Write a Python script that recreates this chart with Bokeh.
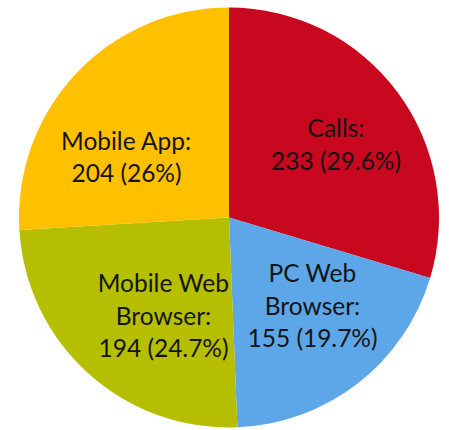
import math
from bokeh.plotting import figure
from bokeh.models import Range1d, ColumnDataSource
from bokeh.core.properties import value
from bokeh.embed import file_html
from bokeh.resources import INLINE

# ---- data ----
categories = ["Calls", "PC Web Browser", "Mobile Web Browser", "Mobile App"]
label_titles = [["Calls:"], ["PC Web", "Browser:"], ["Mobile Web", "Browser:"], ["Mobile App:"]]
counts = [233, 155, 194, 204]
percent_labels = ["29.6%", "19.7%", "24.7%", "26%"]
colors = ["#C8081E", "#5DA6E8", "#B6BE00", "#FFC000"]

# ---- layout ----
W, H = 449, 430
CX, CY = 228.5, 213.0   # pie centre in data (pixel) units
R = 210.0
LS = 32.5               # line spacing of labels, px
# label centre offsets from the pie centre (x right, y up), in pixels
label_offsets = [(107, 73.5), (83.5, -87.5), (-65.5, -97.5), (-102.5, 61)]

total = sum(counts)
starts, ends = [], []
cum = 0.0
for c in counts:
    a0 = math.pi / 2 - 2 * math.pi * cum / total
    cum += c
    a1 = math.pi / 2 - 2 * math.pi * cum / total
    starts.append(a0)
    ends.append(a1)

src = ColumnDataSource(dict(
    x=[CX] * len(counts), y=[CY] * len(counts),
    start=starts, end=ends, color=colors,
))

p = figure(width=W, height=H, output_backend="svg", toolbar_location=None,
           x_range=Range1d(0, W), y_range=Range1d(0, H), min_border=0,
           background_fill_color="white", border_fill_color="white",
           outline_line_color=None)
p.axis.visible = False
p.grid.visible = False

p.wedge(x="x", y="y", radius=R, start_angle="start", end_angle="end",
        direction="clock", fill_color="color", line_color=None, source=src)

lx, ly, lt = [], [], []
for titles, c, pc, (dx, dy) in zip(label_titles, counts, percent_labels, label_offsets):
    lines = titles + [f"{c} ({pc})"]
    n = len(lines)
    for i, line in enumerate(lines):
        lx.append(CX + dx)
        ly.append(CY + dy + (n - 1) / 2 * LS - i * LS)
        lt.append(line)

lsrc = ColumnDataSource(dict(x=lx, y=ly, text=lt))
p.text(x="x", y="y", text="text", source=lsrc, text_align="center",
       text_baseline="middle", text_font=value("Lato"), text_font_size="24.5px",
       text_color="#141414")

open("out.html", "w").write(file_html(p, INLINE))
